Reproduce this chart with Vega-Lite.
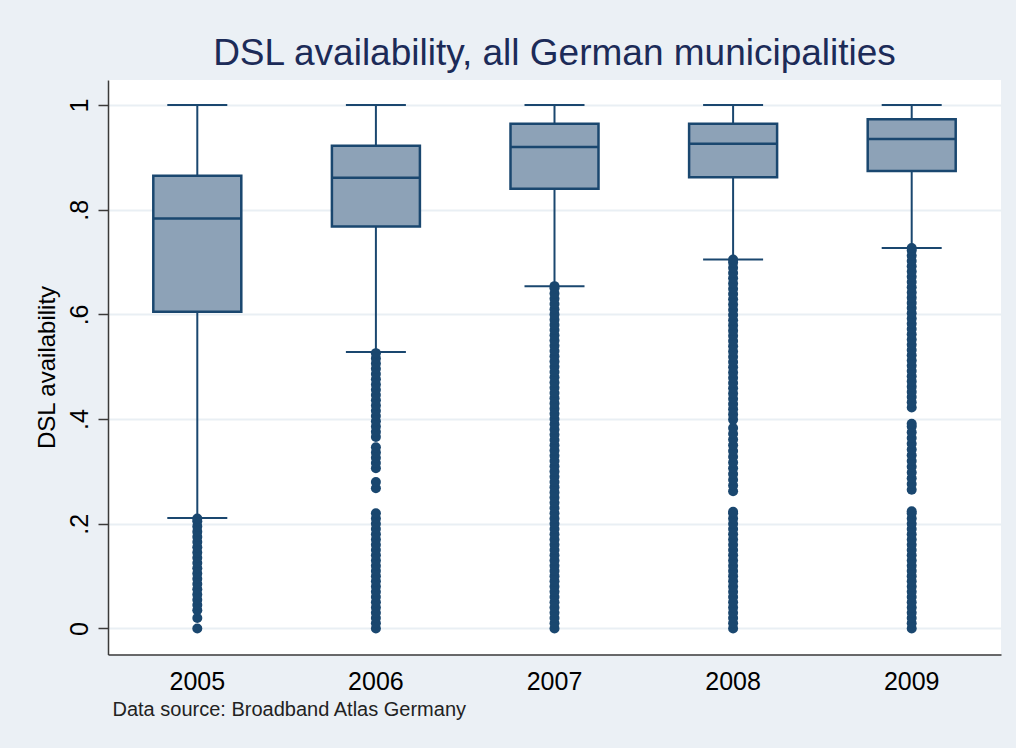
{
"$schema": "https://vega.github.io/schema/vega-lite/v6.json",
"width": 893,
"height": 574.5,
"autosize": {"type": "none"},
"padding": {"left": 108, "top": 80, "right": 15, "bottom": 93.5},
"background": "#EBF0F5",
"view": {"fill": "#FFFFFF", "stroke": null},
"config": {"font": "Liberation Sans"},
"title": {"text": "DSL availability, all German municipalities", "fontSize": 37, "font": "Liberation Sans", "fontWeight": "normal", "color": "#1C2B58", "anchor": "middle", "frame": "group", "offset": 7},
"datasets": {
"boxes": [
{"year": "2005", "lo": 0.211, "q1": 0.605, "med": 0.783, "q3": 0.865, "hi": 1.0},
{"year": "2006", "lo": 0.528, "q1": 0.768, "med": 0.861, "q3": 0.922, "hi": 1.0},
{"year": "2007", "lo": 0.654, "q1": 0.840, "med": 0.920, "q3": 0.964, "hi": 1.0},
{"year": "2008", "lo": 0.705, "q1": 0.862, "med": 0.926, "q3": 0.964, "hi": 1.0},
{"year": "2009", "lo": 0.727, "q1": 0.874, "med": 0.935, "q3": 0.973, "hi": 1.0}
],
"outliers": [
{"year":"2005","v":0},{"year":"2005","v":0.02},{"year":"2005","v":0.035},{"year":"2005","v":0.045},{"year":"2005","v":0.055},{"year":"2005","v":0.065},{"year":"2005","v":0.075},{"year":"2005","v":0.085},{"year":"2005","v":0.095},{"year":"2005","v":0.105},{"year":"2005","v":0.115},{"year":"2005","v":0.125},{"year":"2005","v":0.135},{"year":"2005","v":0.145},{"year":"2005","v":0.155},{"year":"2005","v":0.165},{"year":"2005","v":0.175},{"year":"2005","v":0.185},{"year":"2005","v":0.195},{"year":"2005","v":0.205},{"year":"2005","v":0.21},
{"year":"2006","v":0},{"year":"2006","v":0.01},{"year":"2006","v":0.02},{"year":"2006","v":0.03},{"year":"2006","v":0.04},{"year":"2006","v":0.05},{"year":"2006","v":0.06},{"year":"2006","v":0.07},{"year":"2006","v":0.08},{"year":"2006","v":0.09},{"year":"2006","v":0.1},{"year":"2006","v":0.11},{"year":"2006","v":0.12},{"year":"2006","v":0.13},{"year":"2006","v":0.14},{"year":"2006","v":0.15},{"year":"2006","v":0.16},{"year":"2006","v":0.17},{"year":"2006","v":0.18},{"year":"2006","v":0.19},{"year":"2006","v":0.2},{"year":"2006","v":0.21},{"year":"2006","v":0.22},
{"year":"2006","v":0.268},{"year":"2006","v":0.28},
{"year":"2006","v":0.306},{"year":"2006","v":0.316},{"year":"2006","v":0.326},{"year":"2006","v":0.336},{"year":"2006","v":0.346},
{"year":"2006","v":0.366},{"year":"2006","v":0.376},{"year":"2006","v":0.386},{"year":"2006","v":0.396},{"year":"2006","v":0.406},{"year":"2006","v":0.416},{"year":"2006","v":0.426},{"year":"2006","v":0.436},{"year":"2006","v":0.446},{"year":"2006","v":0.456},{"year":"2006","v":0.466},{"year":"2006","v":0.476},{"year":"2006","v":0.486},{"year":"2006","v":0.496},{"year":"2006","v":0.506},{"year":"2006","v":0.516},{"year":"2006","v":0.526},
{"year":"2007","v":0},{"year":"2007","v":0.01},{"year":"2007","v":0.02},{"year":"2007","v":0.03},{"year":"2007","v":0.04},{"year":"2007","v":0.05},{"year":"2007","v":0.06},{"year":"2007","v":0.07},{"year":"2007","v":0.08},{"year":"2007","v":0.09},{"year":"2007","v":0.1},{"year":"2007","v":0.11},{"year":"2007","v":0.12},{"year":"2007","v":0.13},{"year":"2007","v":0.14},{"year":"2007","v":0.15},{"year":"2007","v":0.16},{"year":"2007","v":0.17},{"year":"2007","v":0.18},{"year":"2007","v":0.19},{"year":"2007","v":0.2},{"year":"2007","v":0.21},{"year":"2007","v":0.22},{"year":"2007","v":0.23},{"year":"2007","v":0.24},{"year":"2007","v":0.25},{"year":"2007","v":0.26},{"year":"2007","v":0.27},{"year":"2007","v":0.28},{"year":"2007","v":0.29},{"year":"2007","v":0.3},{"year":"2007","v":0.31},{"year":"2007","v":0.32},{"year":"2007","v":0.33},{"year":"2007","v":0.34},{"year":"2007","v":0.35},{"year":"2007","v":0.36},{"year":"2007","v":0.37},{"year":"2007","v":0.38},{"year":"2007","v":0.39},{"year":"2007","v":0.4},{"year":"2007","v":0.41},{"year":"2007","v":0.42},{"year":"2007","v":0.43},{"year":"2007","v":0.44},{"year":"2007","v":0.45},{"year":"2007","v":0.46},{"year":"2007","v":0.47},{"year":"2007","v":0.48},{"year":"2007","v":0.49},{"year":"2007","v":0.5},{"year":"2007","v":0.51},{"year":"2007","v":0.52},{"year":"2007","v":0.53},{"year":"2007","v":0.54},{"year":"2007","v":0.55},{"year":"2007","v":0.56},{"year":"2007","v":0.57},{"year":"2007","v":0.58},{"year":"2007","v":0.59},{"year":"2007","v":0.6},{"year":"2007","v":0.61},{"year":"2007","v":0.62},{"year":"2007","v":0.63},{"year":"2007","v":0.64},{"year":"2007","v":0.65},{"year":"2007","v":0.654},
{"year":"2008","v":0},{"year":"2008","v":0.01},{"year":"2008","v":0.02},{"year":"2008","v":0.03},{"year":"2008","v":0.04},{"year":"2008","v":0.05},{"year":"2008","v":0.06},{"year":"2008","v":0.07},{"year":"2008","v":0.08},{"year":"2008","v":0.09},{"year":"2008","v":0.1},{"year":"2008","v":0.11},{"year":"2008","v":0.12},{"year":"2008","v":0.13},{"year":"2008","v":0.14},{"year":"2008","v":0.15},{"year":"2008","v":0.16},{"year":"2008","v":0.17},{"year":"2008","v":0.18},{"year":"2008","v":0.19},{"year":"2008","v":0.2},{"year":"2008","v":0.21},{"year":"2008","v":0.22},{"year":"2008","v":0.223},
{"year":"2008","v":0.262},{"year":"2008","v":0.273},{"year":"2008","v":0.284},{"year":"2008","v":0.295},{"year":"2008","v":0.306},{"year":"2008","v":0.317},{"year":"2008","v":0.328},{"year":"2008","v":0.339},{"year":"2008","v":0.35},{"year":"2008","v":0.361},{"year":"2008","v":0.372},{"year":"2008","v":0.383},
{"year":"2008","v":0.399},{"year":"2008","v":0.409},{"year":"2008","v":0.419},{"year":"2008","v":0.429},{"year":"2008","v":0.439},{"year":"2008","v":0.449},{"year":"2008","v":0.459},{"year":"2008","v":0.469},{"year":"2008","v":0.479},{"year":"2008","v":0.489},{"year":"2008","v":0.499},{"year":"2008","v":0.509},{"year":"2008","v":0.519},{"year":"2008","v":0.529},{"year":"2008","v":0.539},{"year":"2008","v":0.549},{"year":"2008","v":0.559},{"year":"2008","v":0.569},{"year":"2008","v":0.579},{"year":"2008","v":0.589},{"year":"2008","v":0.599},{"year":"2008","v":0.609},{"year":"2008","v":0.619},{"year":"2008","v":0.629},{"year":"2008","v":0.639},{"year":"2008","v":0.649},{"year":"2008","v":0.659},{"year":"2008","v":0.669},{"year":"2008","v":0.679},{"year":"2008","v":0.689},{"year":"2008","v":0.699},{"year":"2008","v":0.705},
{"year":"2009","v":0},{"year":"2009","v":0.01},{"year":"2009","v":0.02},{"year":"2009","v":0.03},{"year":"2009","v":0.04},{"year":"2009","v":0.05},{"year":"2009","v":0.06},{"year":"2009","v":0.07},{"year":"2009","v":0.08},{"year":"2009","v":0.09},{"year":"2009","v":0.1},{"year":"2009","v":0.11},{"year":"2009","v":0.12},{"year":"2009","v":0.13},{"year":"2009","v":0.14},{"year":"2009","v":0.15},{"year":"2009","v":0.16},{"year":"2009","v":0.17},{"year":"2009","v":0.18},{"year":"2009","v":0.19},{"year":"2009","v":0.2},{"year":"2009","v":0.21},{"year":"2009","v":0.22},{"year":"2009","v":0.224},
{"year":"2009","v":0.265},{"year":"2009","v":0.276},{"year":"2009","v":0.287},{"year":"2009","v":0.298},{"year":"2009","v":0.309},{"year":"2009","v":0.32},{"year":"2009","v":0.331},{"year":"2009","v":0.342},{"year":"2009","v":0.353},{"year":"2009","v":0.364},{"year":"2009","v":0.375},{"year":"2009","v":0.386},{"year":"2009","v":0.391},
{"year":"2009","v":0.422},{"year":"2009","v":0.432},{"year":"2009","v":0.442},{"year":"2009","v":0.452},{"year":"2009","v":0.462},{"year":"2009","v":0.472},{"year":"2009","v":0.482},{"year":"2009","v":0.492},{"year":"2009","v":0.502},{"year":"2009","v":0.512},{"year":"2009","v":0.522},{"year":"2009","v":0.532},{"year":"2009","v":0.542},{"year":"2009","v":0.552},{"year":"2009","v":0.562},{"year":"2009","v":0.572},{"year":"2009","v":0.582},{"year":"2009","v":0.592},{"year":"2009","v":0.602},{"year":"2009","v":0.612},{"year":"2009","v":0.622},{"year":"2009","v":0.632},{"year":"2009","v":0.642},{"year":"2009","v":0.652},{"year":"2009","v":0.662},{"year":"2009","v":0.672},{"year":"2009","v":0.682},{"year":"2009","v":0.692},{"year":"2009","v":0.702},{"year":"2009","v":0.712},{"year":"2009","v":0.722},{"year":"2009","v":0.727}
]
},
"encoding": {
"x": {"field": "year", "type": "nominal", "title": "Data source: Broadband Atlas Germany",
 "scale": {"type": "band", "paddingInner": 0, "paddingOuter": 0},
 "axis": {"labelAngle": 0, "labelFontSize": 25, "labelColor": "#000000", "labelFont": "Liberation Sans", "ticks": false, "tickSize": 0, "labelPadding": 15, "domainColor": "#3A3A3A", "domainWidth": 1.5, "grid": false,
  "titleFontSize": 20, "titleFontWeight": "normal", "titleColor": "#222222", "titleFont": "Liberation Sans", "titleAnchor": "start", "titleAlign": "left", "titleX": 4, "titleY": 61, "titleBaseline": "alphabetic"}}
},
"layer": [
{"data": {"name": "boxes"}, "mark": {"type": "rule", "color": "#1A476F", "strokeWidth": 2},
 "encoding": {"y": {"field": "lo", "type": "quantitative", "title": "DSL availability",
   "scale": {"domain": [-0.0497, 1.0478], "nice": false, "zero": false},
   "axis": {"values": [0, 0.2, 0.4, 0.6, 0.8, 1], "labelExpr": "datum.value == 0 ? '0' : datum.value == 1 ? '1' : '.' + toString(round(datum.value * 10))",
    "labelAngle": -90, "labelAlign": "center", "labelBaseline": "bottom", "labelFontSize": 25, "labelColor": "#000000", "labelFont": "Liberation Sans", "labelPadding": 6,
    "tickSize": 10, "tickColor": "#3A3A3A", "tickWidth": 1.5, "domainColor": "#3A3A3A", "domainWidth": 1.5,
    "grid": true, "gridColor": "#E9EFF4", "gridWidth": 2,
    "titleFontSize": 24, "titleFontWeight": "normal", "titleColor": "#000000", "titleFont": "Liberation Sans", "titleAngle": -90, "titleX": -61, "titleY": 287, "titleAlign": "center", "titleBaseline": "middle"}},
  "y2": {"field": "hi"}}},
{"data": {"name": "boxes"}, "mark": {"type": "tick", "color": "#1A476F", "size": 60, "thickness": 2, "opacity": 1},
 "encoding": {"y": {"field": "lo", "type": "quantitative", "title": "DSL availability"}}},
{"data": {"name": "boxes"}, "mark": {"type": "tick", "color": "#1A476F", "size": 60, "thickness": 2, "opacity": 1},
 "encoding": {"y": {"field": "hi", "type": "quantitative", "title": "DSL availability"}}},
{"data": {"name": "boxes"}, "mark": {"type": "bar", "size": 88, "fill": "#8DA2B7", "stroke": "#1A476F", "strokeWidth": 2.5, "opacity": 1},
 "encoding": {"y": {"field": "q1", "type": "quantitative", "title": "DSL availability"}, "y2": {"field": "q3"}}},
{"data": {"name": "boxes"}, "mark": {"type": "tick", "color": "#1A476F", "size": 88, "thickness": 2.5, "opacity": 1},
 "encoding": {"y": {"field": "med", "type": "quantitative", "title": "DSL availability"}}},
{"data": {"name": "outliers"}, "mark": {"type": "point", "shape": "circle", "filled": true, "size": 100, "color": "#1A476F", "opacity": 1},
 "encoding": {"y": {"field": "v", "type": "quantitative", "title": "DSL availability"}}}
]
}
